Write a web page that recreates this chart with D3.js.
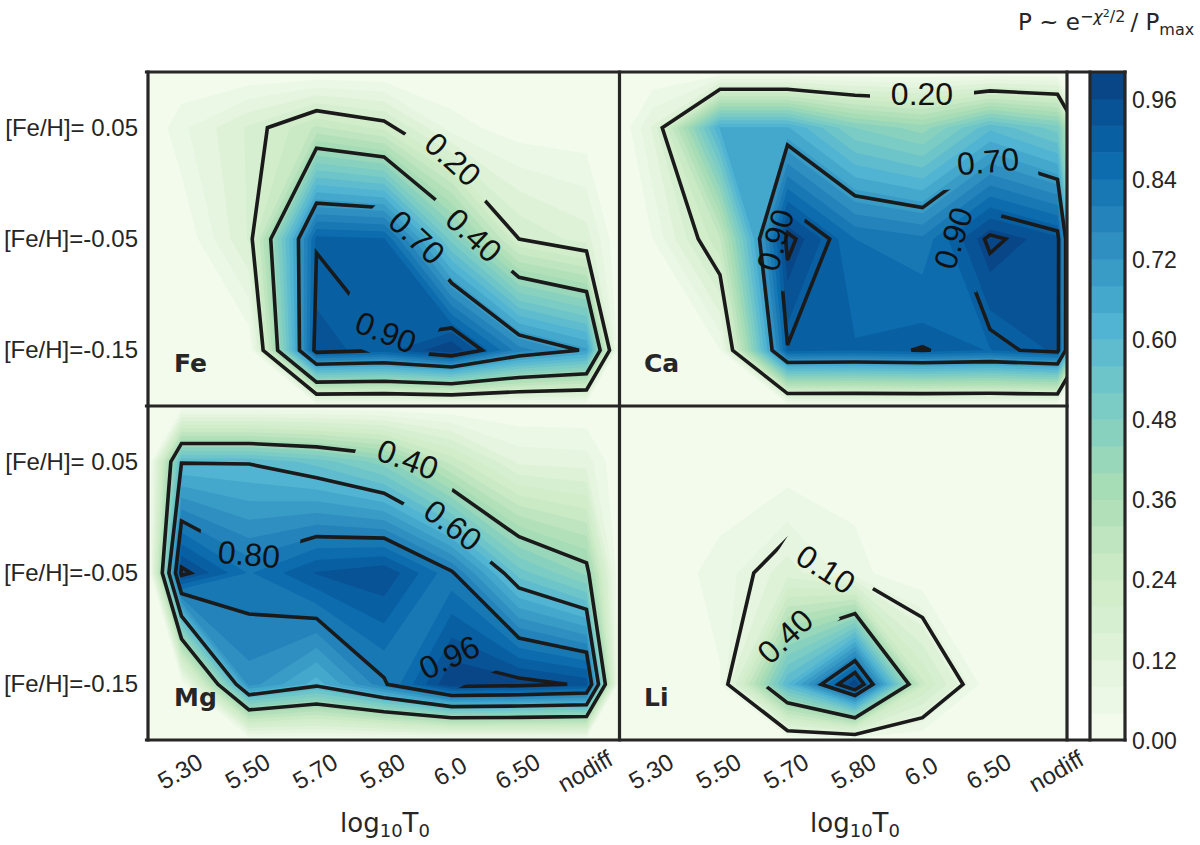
<!DOCTYPE html>
<html>
<head>
<meta charset="utf-8">
<script src="https://cdn.jsdelivr.net/npm/d3@7"></script>
<style>
  html, body { margin: 0; padding: 0; background: #fff; }
  svg { display: block; }
  text { fill: #262626; font-family: "Liberation Sans", Arial, sans-serif; }
  text.math { font-family: "DejaVu Sans", sans-serif; }
  text.clabel { fill: #111; }
</style>
</head>
<body>
<div id="chart"></div>
<script>
// --- values ---
const tempLabels = ["5.30", "5.50", "5.70", "5.80", "6.0", "6.50", "nodiff"];
const fehLabels = ["[Fe/H]= 0.05", "[Fe/H]=-0.05", "[Fe/H]=-0.15"];
const elements = ["Fe", "Ca", "Mg", "Li"];

// one row per [Fe/H], one column per log10T0
const feValues = [
    [0.07, 0.167, 0.288, 0.227, 0.06, 0.015, 0.01],
    [0.0, 0.165, 0.895, 0.885, 0.504, 0.2, 0.14],
    [0.0, 0.005, 0.935, 0.902, 1.0, 0.78, 0.69]
];
const caValues = [
    [0.125, 0.645, 0.645, 0.48, 0.42, 0.59, 0.5],
    [0.04, 0.276, 1.0, 0.84, 0.81, 0.995, 0.931],
    [0.0, 0.04, 0.895, 0.885, 0.903, 0.878, 0.928]
];
const mgValues = [
    [0.595, 0.595, 0.545, 0.46, 0.265, 0.11, 0.1],
    [0.98, 0.835, 0.924, 0.955, 0.81, 0.54, 0.43],
    [0.0, 0.74, 0.62, 0.79, 1.0, 0.985, 0.95]
];
const liValues = [
    [0.0, 0.0, 0.01, 0.02, 0.0, 0.0, 0.0],
    [0.0, 0.06, 0.14, 0.055, 0.0, 0.0, 0.0],
    [0.0, 0.035, 0.6, 1.0, 0.25, 0.0, 0.0]
];
const feLevels = [0.2, 0.4, 0.7, 0.9];
const caLevels = [0.2, 0.7, 0.9, 0.98];
const mgLevels = [0.4, 0.6, 0.8, 0.96];
const liLevels = [0.1, 0.4, 0.8, 0.9];
const colorTicks = [0, 0.12, 0.24, 0.36, 0.48, 0.6, 0.72, 0.84, 0.96];
const fillStep = 0.04;
const fillLevels = d3.range(25).map(i => i * fillStep);

// --- layout ---
const width = 1200, height = 845;
const panelW = 470, panelH = 334;
const colInset = 32.5, rowInset = 55.7;
const topY = 72, midY = 406, botY = 740;
const leftX = 149, rightX = 620;
const stripX = 1067, barX = 1090, barW = 35;
const gapW = 104, gapH = 50;

// where the inline contour labels sit, in px from the panel corner
const feLabelPos = [
    { level: 0.2, dx: 304, dy: 87, rot: 42 },
    { level: 0.4, dx: 325, dy: 163, rot: 43 },
    { level: 0.7, dx: 268, dy: 165, rot: 43 },
    { level: 0.9, dx: 237, dy: 260, rot: 22, w: 96 }
];
const caLabelPos = [
    { level: 0.2, dx: 302, dy: 21, rot: 0 },
    { level: 0.7, dx: 368, dy: 89, rot: -5, w: 98 },
    { level: 0.9, dx: 155, dy: 168, rot: -74, w: 94, h: 46 },
    { level: 0.9, dx: 333, dy: 166, rot: -72, w: 90, h: 78 }
];
const mgLabelPos = [
    { level: 0.4, dx: 259, dy: 53, rot: 20 },
    { level: 0.6, dx: 304, dy: 119, rot: 37 },
    { level: 0.8, dx: 100, dy: 148, rot: 5, w: 100 },
    { level: 0.96, dx: 300, dy: 251, rot: -25, h: 64 }
];
const liLabelPos = [
    { level: 0.1, dx: 206, dy: 163, rot: 33, w: 100 },
    { level: 0.4, dx: 165, dy: 230, rot: -43 }
];

const panels = [
    { name: elements[0], values: feValues, levels: feLevels, labels: feLabelPos, x0: leftX, y0: topY, yAxis: true },
    { name: elements[1], values: caValues, levels: caLevels, labels: caLabelPos, x0: rightX, y0: topY, yAxis: false },
    { name: elements[2], values: mgValues, levels: mgLevels, labels: mgLabelPos, x0: leftX, y0: midY, yAxis: true },
    { name: elements[3], values: liValues, levels: liLevels, labels: liLabelPos, x0: rightX, y0: midY, yAxis: false }
];

// matplotlib's GnBu is piecewise linear through these nine colours
const gnbuStops = ["#f7fcf0", "#e0f3db", "#ccebc5", "#a8ddb5", "#7bccc4", "#4eb3d3", "#2b8cbe", "#0868ac", "#084081"];
const color = d3.scaleLinear()
    .domain(gnbuStops.map((c, i) => i / 8))
    .range(gnbuStops)
    .interpolate(d3.interpolateRgb);

const svg = d3.select("#chart").append("svg")
    .attr("width", width)
    .attr("height", height)
    .attr("viewBox", `0 0 ${width} ${height}`);
const defs = svg.append("defs");

panels.forEach((p, idx) => drawPanel(p, idx));
drawColorbar();
drawFrames();
drawTitles();

function drawPanel(p, idx) {
    const xCat = d3.scalePoint().domain(tempLabels).range([p.x0 + colInset, p.x0 + panelW - colInset]);
    const yCat = d3.scalePoint().domain(fehLabels).range([p.y0 + rowInset, p.y0 + panelH - rowInset]);

    // the values are padded with a zero ring that lies on the panel edge
    const padded = [new Array(9).fill(0)]
        .concat(p.values.map(r => [0].concat(r, [0])))
        .concat([new Array(9).fill(0)]);
    const flat = padded.flat();

    const gridX = d3.scaleLinear()
        .domain(d3.range(9).map(i => i + 0.5))
        .range([p.x0].concat(tempLabels.map(t => xCat(t)), [p.x0 + panelW]));
    const gridY = d3.scaleLinear()
        .domain(d3.range(5).map(i => i + 0.5))
        .range([p.y0].concat(fehLabels.map(t => yCat(t)), [p.y0 + panelH]));

    const path = d3.geoPath(d3.geoTransform({
        point(x, y) { this.stream.point(gridX(x), gridY(y)); }
    }));
    const contours = d3.contours().size([9, 5]);

    const clipId = `clip-${idx}`;
    defs.append("clipPath").attr("id", clipId).append("rect")
        .attr("x", p.x0).attr("y", p.y0)
        .attr("width", Math.min(panelW, stripX - p.x0)).attr("height", panelH);

    const g = svg.append("g").attr("clip-path", `url(#${clipId})`);

    // filled bands, lowest first so each one paints over the last
    g.selectAll("path.band")
        .data(contours.thresholds(fillLevels)(flat))
        .enter().append("path")
        .attr("class", "band")
        .attr("d", path)
        .attr("fill", d => color(d.value + fillStep / 2));

    // the gap for each inline label is cut only from its own contour line
    p.levels.forEach((level, i) => {
        const maskId = `mask-${idx}-${i}`;
        const mask = defs.append("mask").attr("id", maskId)
            .attr("maskUnits", "userSpaceOnUse")
            .attr("x", 0).attr("y", 0).attr("width", width).attr("height", height);
        mask.append("rect").attr("width", width).attr("height", height).attr("fill", "#fff");
        p.labels.filter(l => l.level === level).forEach(l => {
            const w = l.w || gapW, h = l.h || gapH;
            mask.append("rect")
                .attr("x", -w / 2).attr("y", -h / 2).attr("width", w).attr("height", h)
                .attr("fill", "#000")
                .attr("transform", `translate(${p.x0 + l.dx},${p.y0 + l.dy}) rotate(${l.rot})`);
        });
        g.append("path")
            .datum(contours.thresholds([level])(flat)[0])
            .attr("d", path)
            .attr("fill", "none")
            .attr("stroke", "#1a1a1a")
            .attr("stroke-width", 3.6)
            .attr("stroke-linejoin", "miter")
            .attr("mask", `url(#${maskId})`);
    });

    g.selectAll("text.clabel")
        .data(p.labels)
        .enter().append("text")
        .attr("class", "clabel")
        .attr("transform", d => `translate(${p.x0 + d.dx},${p.y0 + d.dy}) rotate(${d.rot})`)
        .attr("text-anchor", "middle")
        .attr("dy", "0.36em")
        .attr("font-size", 32)
        .text(d => d.level.toFixed(2));

    g.append("text")
        .attr("class", "math")
        .attr("x", p.x0 + (p.yAxis ? 25 : 24))
        .attr("y", p.y0 + 300)
        .attr("font-size", 25)
        .attr("font-weight", "bold")
        .text(p.name);

    if (p.y0 === midY) {
        const xAxis = svg.append("g")
            .attr("transform", `translate(0,${botY})`)
            .call(d3.axisBottom(xCat).tickSize(0));
        xAxis.select(".domain").remove();
        xAxis.selectAll("text")
            .attr("font-size", 24)
            .attr("font-family", null)
            .attr("fill", null)
            .attr("text-anchor", "middle")
            .attr("x", 0).attr("y", 0).attr("dy", "0.36em")
            .attr("transform", "translate(-2,31) rotate(-30)");
    }
    if (p.yAxis) {
        const yAxis = svg.append("g")
            .attr("transform", `translate(${leftX},0)`)
            .call(d3.axisLeft(yCat).tickSize(0));
        yAxis.select(".domain").remove();
        yAxis.selectAll("text")
            .attr("font-size", 24)
            .attr("font-family", null)
            .attr("fill", null)
            .attr("text-anchor", "end")
            .attr("x", -11).attr("dy", "0.32em");
    }
}

function drawFrames() {
    // white strip the colorbar axes lays over the right-hand panels
    svg.append("rect")
        .attr("x", stripX).attr("y", topY)
        .attr("width", barX - stripX).attr("height", botY - topY)
        .attr("fill", "#fff");

    const vLines = [leftX - 1, rightX - 0.5, stripX, barX, barX + barW];
    const hLines = [topY, midY, botY];
    svg.selectAll("line.vspine").data(vLines).enter().append("line")
        .attr("class", "vspine")
        .attr("x1", d => d).attr("x2", d => d)
        .attr("y1", topY).attr("y2", botY);
    svg.selectAll("line.hspine").data(hLines).enter().append("line")
        .attr("class", "hspine")
        .attr("x1", leftX - 2.5).attr("y1", d => d)
        .attr("x2", d => d === midY ? stripX : barX + barW).attr("y2", d => d);
    svg.selectAll("line.vspine, line.hspine")
        .attr("stroke", "#262626")
        .attr("stroke-width", 3.2)
        .attr("stroke-linecap", "square");
}

function drawColorbar() {
    const y = d3.scaleLinear().domain([0, 1]).range([botY, topY]);
    svg.append("g").selectAll("rect")
        .data(fillLevels)
        .enter().append("rect")
        .attr("x", barX)
        .attr("y", d => y(d + fillStep))
        .attr("width", barW)
        .attr("height", d => y(d) - y(d + fillStep) + 0.5)
        .attr("fill", d => color(d + fillStep / 2));

    const axis = svg.append("g")
        .attr("transform", `translate(${barX + barW},0)`)
        .call(d3.axisRight(y).tickValues(colorTicks).tickFormat(d3.format(".2f")).tickSize(0));
    axis.select(".domain").remove();
    axis.selectAll("text")
        .attr("font-size", 23)
        .attr("font-family", null)
        .attr("fill", null)
        .attr("x", 7)
        .attr("dy", "0.36em");
}

function drawTitles() {
    const t = svg.append("text")
        .attr("class", "math")
        .attr("x", 1018)
        .attr("y", 30)
        .attr("font-size", 23);
    t.append("tspan").text("P ~ e");
    t.append("tspan").attr("dy", -8).attr("font-size", 16).text("\u2212");
    t.append("tspan").attr("font-size", 16).attr("font-style", "italic").text("\u03c7");
    t.append("tspan").attr("dy", -5).attr("font-size", 11).text("2");
    t.append("tspan").attr("dy", 5).attr("font-size", 16).text("/2");
    t.append("tspan").attr("dy", 8).attr("dx", 5).text("/ P");
    t.append("tspan").attr("dy", 5).attr("font-size", 16).text("max");

    [leftX + 236, rightX + 235].forEach(cx => {
        const l = svg.append("text")
            .attr("class", "math")
            .attr("x", cx)
            .attr("y", 832)
            .attr("text-anchor", "middle")
            .attr("font-size", 26);
        l.append("tspan").text("log");
        l.append("tspan").attr("dy", 5).attr("font-size", 18).text("10");
        l.append("tspan").attr("dy", -5).text("T");
        l.append("tspan").attr("dy", 5).attr("font-size", 18).text("0");
    });
}
</script>
</body>
</html>
